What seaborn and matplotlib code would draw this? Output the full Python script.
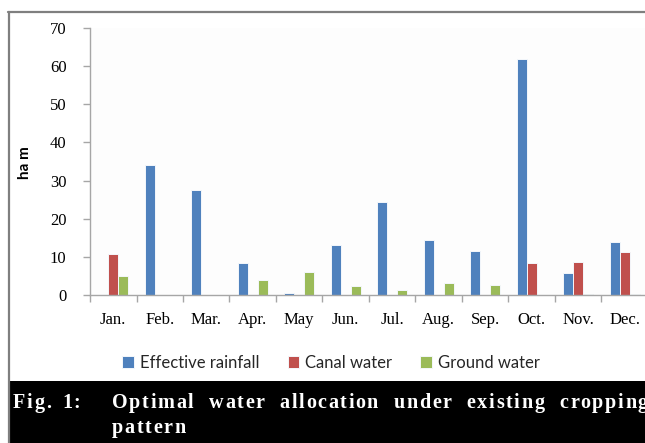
import numpy as np
import pandas as pd
import matplotlib
matplotlib.use("Agg")
import matplotlib.pyplot as plt
import seaborn as sns
from matplotlib.patches import Rectangle
from matplotlib.lines import Line2D

# Monthly water allocation (ha m) under the existing cropping pattern
months = ["Jan.", "Feb.", "Mar.", "Apr.", "May", "Jun.",
          "Jul.", "Aug.", "Sep.", "Oct.", "Nov.", "Dec."]
effective_rainfall = [0.0, 34.0, 27.5, 8.3, 0.5, 13.0, 24.4, 14.5, 11.5, 62.0, 5.8, 13.8]
canal_water = [10.7, 0.0, 0.0, 0.0, 0.0, 0.0, 0.0, 0.0, 0.0, 8.5, 8.7, 11.3]
ground_water = [5.0, 0.0, 0.0, 3.9, 5.9, 2.4, 1.4, 3.1, 2.7, 0.0, 0.3, 0.3]
series = ["Effective rainfall", "Canal water", "Ground water"]
colors = ["#4F81BD", "#C0504D", "#9BBB59"]
y_ticks = [0, 10, 20, 30, 40, 50, 60, 70]

df = pd.DataFrame({
    "Month": months * 3,
    "Source": np.repeat(series, len(months)),
    "Value": effective_rainfall + canal_water + ground_water,
})

sns.set_theme(style="white")
plt.rcParams["font.family"] = ["Liberation Serif", "DejaVu Serif"]

W, H = 645, 443
fig = plt.figure(figsize=(W / 100, H / 100), dpi=100)
fig.patch.set_facecolor("white")

# plot area: x from 90 px to beyond the right edge, y from 28 px to 295 px
ax = fig.add_axes([90 / W, (H - 295) / H, 558 / W, 267 / H])
sns.barplot(data=df, x="Month", y="Value", hue="Source", hue_order=series,
            palette=colors, width=0.645, gap=0, errorbar=None, ax=ax,
            edgecolor="#f4f7fb", linewidth=0.7, saturation=1)

handles, labels = ax.get_legend_handles_labels()
ax.get_legend().remove()

ax.set_ylim(0, 70)
ax.set_xlim(-0.5, 11.5)
ax.set_yticks(y_ticks)
ax.set_xlabel("")
ax.set_ylabel("")
ax.set_facecolor("#fdfdfd")

axis_grey = "#a6a6a6"
for side in ("top", "right"):
    ax.spines[side].set_visible(False)
for side in ("left", "bottom"):
    ax.spines[side].set_color(axis_grey)
    ax.spines[side].set_linewidth(1.0)

ax.tick_params(axis="y", which="major", direction="out", length=5, width=1,
               color=axis_grey, labelsize=12, pad=12, labelcolor="black",
               left=True)
ax.tick_params(axis="x", which="major", length=0, labelsize=12, pad=12,
               labelcolor="black")
ax.set_xticks(np.arange(-0.5, 12.0, 1.0), minor=True)
ax.tick_params(axis="x", which="minor", direction="out", length=5, width=1,
               color=axis_grey, bottom=True)

fig.text(25 / W, 1 - 163 / H, "ha m", rotation=90, ha="center", va="center",
         fontsize=11, fontfamily="Lato", fontweight="bold", color="black")

fig.legend(handles, labels, loc="center", bbox_to_anchor=(331 / W, 1 - 363 / H),
           ncol=3, frameon=False, prop={"family": "Lato", "size": 12},
           handlelength=0.7, handleheight=0.7, handletextpad=0.35,
           columnspacing=1.7, borderaxespad=0)

# page frame lines
fig.add_artist(Line2D([8 / W, 1], [1 - 12 / H] * 2, transform=fig.transFigure,
                      color="#7f7f7f", lw=1.6))
fig.add_artist(Line2D([8.5 / W] * 2, [0, 1 - 12 / H], transform=fig.transFigure,
                      color="#7f7f7f", lw=1.6))

# caption band
fig.add_artist(Rectangle((9.5 / W, 0), 1, 62 / H, transform=fig.transFigure,
                         facecolor="black", edgecolor="none"))
cap = dict(color="white", fontsize=14.5, fontweight="bold",
           fontfamily="Liberation Serif", va="baseline", ha="left")
renderer = fig.canvas.get_renderer()
LETTER_GAP = 1.6  # px between letters


def glyph_width(ch):
    t = fig.text(0, 0, ch, **cap)
    w = t.get_window_extent(renderer).width
    t.remove()
    return w


def word_width(word):
    return sum(glyph_width(c) for c in word) + LETTER_GAP * (len(word) - 1)


def draw_word(word, x0, baseline):
    x = x0
    for ch in word:
        fig.text(x / W, 1 - baseline / H, ch, **cap)
        x += glyph_width(ch) + LETTER_GAP


def justified_line(words, x0, x1, baseline):
    widths = [word_width(w) for w in words]
    space = (x1 - x0 - sum(widths)) / max(len(words) - 1, 1)
    x = x0
    for word, w in zip(words, widths):
        draw_word(word, x, baseline)
        x += w + space


draw_word("Fig.", 13, 408)
draw_word("1:", 62, 408)
justified_line(["Optimal", "water", "allocation", "under", "existing", "cropping"],
               112, 648, 408)
draw_word("pattern", 112, 433)

fig.savefig("out.png", dpi=100)
